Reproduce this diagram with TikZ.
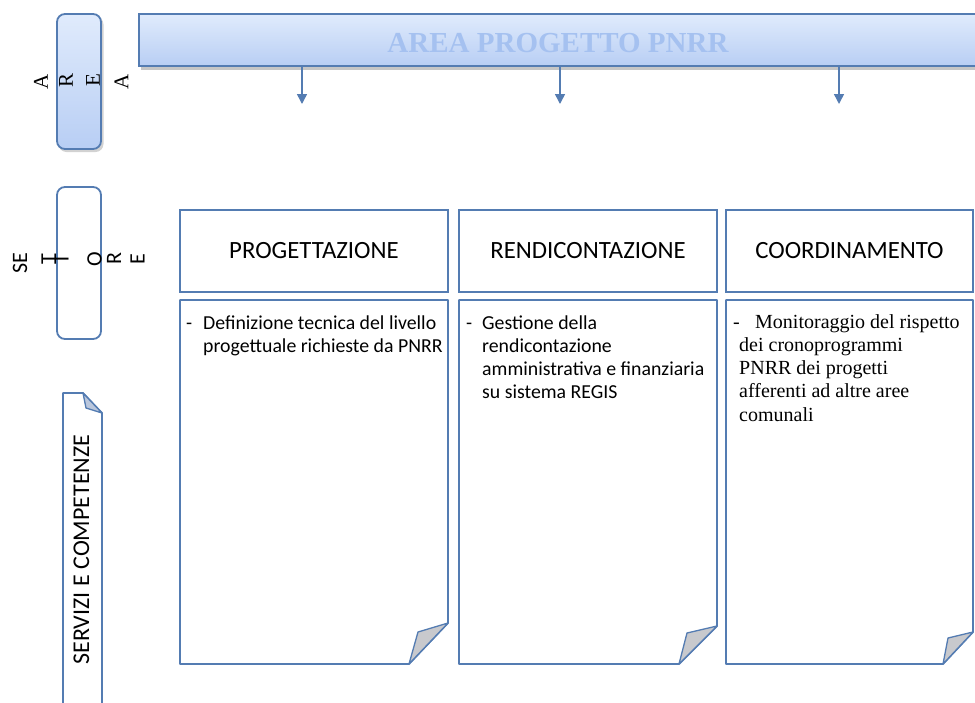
\documentclass[tikz,border=0pt]{standalone}
\usepackage{fontspec}
\setmainfont{Carlito}
\newfontfamily\tnr{Liberation Serif}
\usetikzlibrary{arrows.meta}
\definecolor{bcol}{RGB}{84,124,178}
\definecolor{gtop}{RGB}{224,235,252}
\definecolor{gbot}{RGB}{184,206,244}
\definecolor{btext}{RGB}{165,193,240}
\definecolor{foldc}{RGB}{200,201,205}
\definecolor{foldb}{RGB}{186,199,221}
\begin{document}
\begin{tikzpicture}[x=1pt,y=-1pt,
  outl/.style={draw=bcol,line width=1.8pt},
  holder/.style={inner sep=0pt,outer sep=0pt,anchor=north west},
  titlebox/.style={outl,fill=white,inner sep=0pt,outer sep=0pt,anchor=north west,minimum height=82pt,font=\fontsize{24.8}{27}\selectfont},
  body/.style={inner sep=0pt,anchor=base west,align=left,font=\fontsize{19.8}{23.3}\selectfont},
  tbody/.style={inner sep=0pt,anchor=base west,align=left,font=\tnr\fontsize{20}{23.3}\selectfont},
  vlet/.style={rotate=90,inner sep=0pt},
  arr/.style={draw=bcol,line width=1.5pt,-{Triangle[width=10pt,length=10pt]}},
  fold/.style={draw=bcol,line width=1.3pt,fill=foldc,line join=round}
]
\useasboundingbox (0,0) rectangle (975,702);

% ---- AREA side box
\fill[gray!35,rounded corners=8pt] (58.5,16.5) rectangle (103.5,152);
\node[holder,outl,rounded corners=8pt,top color=gtop,bottom color=gbot,minimum width=44pt,minimum height=135pt] (areabox) at (57,14) {};
\node[vlet,font=\tnr\fontsize{21}{21}\selectfont] (aA1) at (41,82) {A};
\node[vlet,font=\tnr\fontsize{21}{21}\selectfont] (aR) at (66,80) {R};
\node[vlet,font=\tnr\fontsize{21}{21}\selectfont] (aE) at (93,80) {E};
\node[vlet,font=\tnr\fontsize{21}{21}\selectfont] (aA2) at (121.5,82) {A};

% ---- SETTORE side box
\node[holder,outl,rounded corners=8pt,minimum width=44pt,minimum height=152pt] (setbox) at (57,187) {};
\node[vlet,font=\fontsize{22}{22}\selectfont] (sSE) at (20,263) {SE};
\node[vlet,font=\fontsize{22}{22}\selectfont] (sT1) at (48.5,259) {T};
\node[vlet,font=\fontsize{22}{22}\selectfont] (sT2) at (61.5,259) {T};
\node[vlet,font=\fontsize{22}{22}\selectfont] (sO) at (94.5,259) {O};
\node[vlet,font=\fontsize{22}{22}\selectfont] (sR) at (114,259) {R};
\node[vlet,font=\fontsize{22}{22}\selectfont] (sE) at (137.5,259) {E};

% ---- SERVIZI E COMPETENZE side document
\node[holder,minimum width=39pt,minimum height=320pt] (svc) at (63,393) {};
\draw[outl,line join=round] (svc.south west) -- (svc.north west) -- ([xshift=20pt]svc.north west) -- ([yshift=-20pt]svc.north east) -- (svc.south east);
\filldraw[fold,fill=foldb] ([xshift=20pt]svc.north west) -- ([xshift=23pt,yshift=-15pt]svc.north west) -- ([yshift=-20pt]svc.north east) -- cycle;
\node[vlet,font=\fontsize{24}{24}\selectfont] (svctext) at (81.5,549.5) {SERVIZI E COMPETENZE};

% ---- banner
\draw[gray!45,line width=2.5pt] (141,68.5) -- (980,68.5);
\node[holder,outl,top color=gtop,bottom color=gbot,minimum width=845pt,minimum height=52pt] (banner) at (139,14) {};
\node[inner sep=0pt,anchor=base,text=btext,font=\tnr\bfseries\fontsize{29}{29}\selectfont] (bantext) at (558,52) {AREA PROGETTO PNRR};

% ---- arrows
\coordinate (a1) at (302,104);
\coordinate (a2) at (560,104);
\coordinate (a3) at (839,104);
\draw[arr] (banner.south -| a1) -- (a1);
\draw[arr] (banner.south -| a2) -- (a2);
\draw[arr] (banner.south -| a3) -- (a3);

% ---- title boxes
\node[titlebox,minimum width=268pt] (t1) at (180,210) {PROGETTAZIONE};
\node[titlebox,minimum width=258pt] (t2) at (459,210) {RENDICONTAZIONE};
\node[titlebox,minimum width=247pt] (t3) at (726,210) {COORDINAMENTO};

% ---- content documents
\node[holder,minimum width=268pt,minimum height=364pt] (c1) at (180,300) {};
\node[holder,minimum width=258pt,minimum height=364pt] (c2) at (459,300) {};
\node[holder,minimum width=247pt,minimum height=364pt] (c3) at (726,300) {};

\draw[outl,line join=round] (c1.north west) -- (c1.north east) -- ([yshift=41pt]c1.south east) -- ([xshift=-39pt]c1.south east) -- (c1.south west) -- cycle;
\filldraw[fold] ([yshift=41pt]c1.south east) -- ([xshift=-30pt,yshift=32pt]c1.south east) -- ([xshift=-39pt]c1.south east) -- cycle;

\draw[outl,line join=round] (c2.north west) -- (c2.north east) -- ([yshift=38pt]c2.south east) -- ([xshift=-38pt]c2.south east) -- (c2.south west) -- cycle;
\filldraw[fold] ([yshift=38pt]c2.south east) -- ([xshift=-30pt,yshift=31pt]c2.south east) -- ([xshift=-38pt]c2.south east) -- cycle;

\draw[outl,line join=round] (c3.north west) -- (c3.north east) -- ([yshift=32pt]c3.south east) -- ([xshift=-30pt]c3.south east) -- (c3.south west) -- cycle;
\filldraw[fold] ([yshift=32pt]c3.south east) -- ([xshift=-25pt,yshift=26pt]c3.south east) -- ([xshift=-30pt]c3.south east) -- cycle;

% ---- content texts (multi-line nodes: base = last line's baseline)
\node[body] (d1) at (186,329) {-};
\node[body] (x1) at (203,352.3) {Definizione tecnica del livello\\progettuale richieste da PNRR};
\node[body] (d2) at (466,329) {-};
\node[body] (x2) at (482,398.9) {Gestione della\\rendicontazione\\amministrativa e finanziaria\\su sistema REGIS};
\node[tbody] (d3) at (733,328) {-};
\node[tbody] (x3) at (739,421.2) {\hspace*{16pt}Monitoraggio del rispetto\\dei cronoprogrammi\\PNRR dei progetti\\afferenti ad altre aree\\comunali};
\end{tikzpicture}
\end{document}
